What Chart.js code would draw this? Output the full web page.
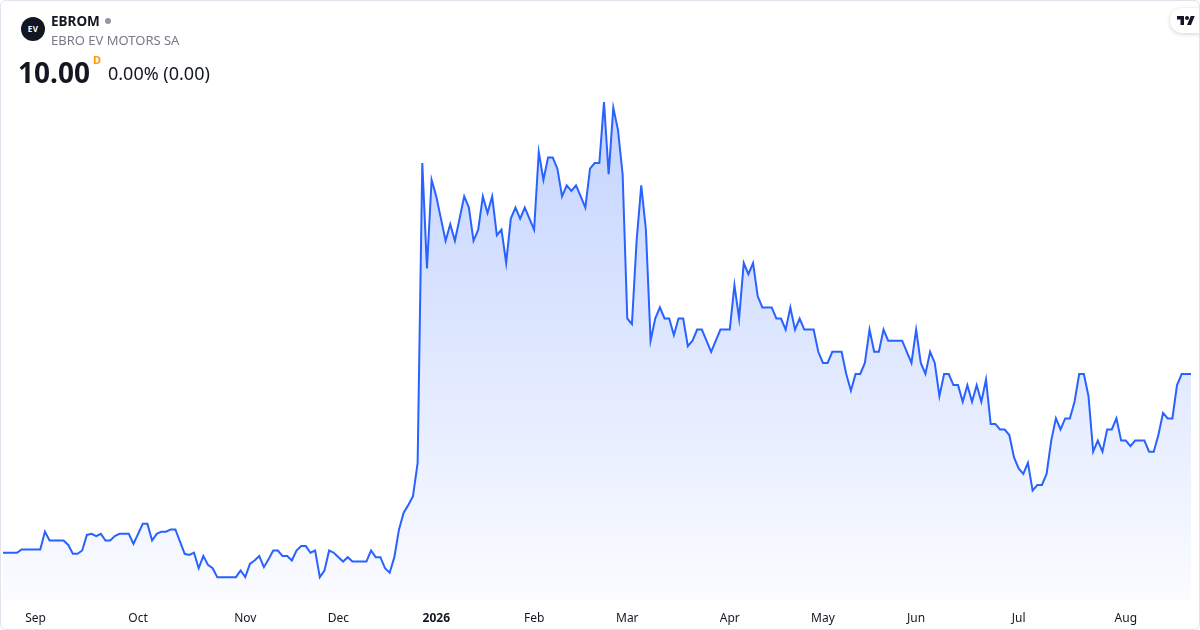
<!DOCTYPE html>
<html>
<head>
<meta charset="utf-8">
<script src="https://cdn.jsdelivr.net/npm/chart.js@4/dist/chart.umd.min.js"></script>
<style>
  html,body{margin:0;padding:0;background:#fff;}
  body{width:1200px;height:630px;position:relative;overflow:hidden;font-family:"Noto Sans","Open Sans",sans-serif;color:#131722;}
  #wrap{position:absolute;left:0;top:0;width:1200px;height:630px;}
  #frame{position:absolute;left:0;top:0;width:1198px;height:628px;border:1px solid #e0e3eb;border-radius:6px;pointer-events:none;}
  .abs{position:absolute;white-space:nowrap;}
  #logo{left:21px;top:17px;width:24px;height:24px;border-radius:50%;background:#131722;color:#fff;font-size:8px;font-weight:700;line-height:24px;text-align:center;letter-spacing:0.5px;}
  #sym{left:51px;top:11px;font-size:13.5px;font-weight:700;line-height:20px;}
  #dot{left:105px;top:17.5px;width:6px;height:6px;border-radius:50%;background:#9598a1;}
  #name{left:51px;top:31px;font-size:13px;line-height:19px;color:#787b86;}
  #price{left:18px;top:54px;font-size:28px;font-weight:700;line-height:36px;}
  #dmark{left:93px;top:53px;font-size:11px;font-weight:700;color:#ff9800;line-height:14px;}
  #chg{left:108px;top:61px;font-size:18px;line-height:25px;}
  #tv{left:1170px;top:8px;width:40px;height:25px;background:#fff;border-radius:12px;box-shadow:0 1px 4px rgba(0,0,0,0.18);}
  #tv svg{position:absolute;left:7px;top:6px;}
</style>
</head>
<body>
<div id="wrap"><canvas id="c" width="1200" height="630"></canvas></div>
<div class="abs" id="logo">EV</div>
<div class="abs" id="sym">EBROM</div>
<div class="abs" id="dot"></div>
<div class="abs" id="name">EBRO EV MOTORS SA</div>
<div class="abs" id="price">10.00</div>
<div class="abs" id="dmark">D</div>
<div class="abs" id="chg">0.00% (0.00)</div>
<div class="abs" id="tv"><svg width="18" height="13" viewBox="0 0 36 26"><path fill="#131722" d="M14 22H7V11H0V4h14v18zM28 22h-8l7.5-18h8L28 22z"/><circle fill="#131722" cx="20" cy="8" r="4"/></svg></div>
<div id="frame"></div>
<script>
// Daily closing prices (one per trading day, oldest first)
const closes = [
  8.39, 8.39, 8.39, 8.39, 8.42, 8.42, 8.42, 8.42, 8.42, 8.58,
  8.50, 8.50, 8.50, 8.50, 8.46, 8.38, 8.38, 8.41, 8.55, 8.56,
  8.54, 8.56, 8.50, 8.50, 8.54, 8.56, 8.56, 8.56, 8.47, 8.56,
  8.65, 8.65, 8.50, 8.56, 8.58, 8.58, 8.60, 8.60, 8.49, 8.38,
  8.37, 8.39, 8.25, 8.36, 8.28, 8.25, 8.17, 8.17, 8.17, 8.17,
  8.17, 8.23, 8.17, 8.29, 8.32, 8.36, 8.26, 8.33, 8.41, 8.41,
  8.36, 8.36, 8.32, 8.41, 8.45, 8.45, 8.39, 8.41, 8.17, 8.23,
  8.41, 8.39, 8.35, 8.31, 8.35, 8.31, 8.31, 8.31, 8.31, 8.41,
  8.35, 8.35, 8.25, 8.21, 8.35, 8.60, 8.75, 8.82, 8.90, 9.20,
  11.90, 10.95, 11.75, 11.60, 11.40, 11.20, 11.35, 11.20, 11.40, 11.60,
  11.50, 11.20, 11.30, 11.60, 11.45, 11.60, 11.25, 11.30, 11.00, 11.40,
  11.50, 11.40, 11.50, 11.40, 11.30, 12.00, 11.75, 11.95, 11.95, 11.85,
  11.60, 11.70, 11.65, 11.70, 11.60, 11.50, 11.85, 11.90, 11.90, 12.45,
  11.80, 12.40, 12.20, 11.80, 10.50, 10.45, 11.20, 11.70, 11.30, 10.30,
  10.50, 10.60, 10.50, 10.50, 10.35, 10.50, 10.50, 10.25, 10.30, 10.40,
  10.40, 10.30, 10.20, 10.30, 10.40, 10.40, 10.40, 10.80, 10.50, 11.00,
  10.90, 11.00, 10.70, 10.60, 10.60, 10.60, 10.50, 10.50, 10.40, 10.60,
  10.40, 10.50, 10.40, 10.40, 10.40, 10.20, 10.10, 10.10, 10.20, 10.20,
  10.20, 10.00, 9.85, 10.00, 10.00, 10.10, 10.40, 10.20, 10.20, 10.40,
  10.30, 10.30, 10.30, 10.30, 10.20, 10.10, 10.40, 10.10, 10.00, 10.20,
  10.10, 9.80, 10.00, 10.00, 9.90, 9.90, 9.75, 9.90, 9.75, 9.90,
  9.75, 9.95, 9.55, 9.55, 9.50, 9.50, 9.45, 9.25, 9.15, 9.10,
  9.20, 8.95, 9.00, 9.00, 9.10, 9.40, 9.60, 9.50, 9.60, 9.60,
  9.75, 10.00, 10.00, 9.80, 9.30, 9.40, 9.30, 9.50, 9.50, 9.60,
  9.40, 9.40, 9.35, 9.40, 9.40, 9.40, 9.30, 9.30, 9.45, 9.65,
  9.60, 9.60, 9.90, 10.00, 10.00, 10.00
];
// Trading-day index of first session of each month, and its label
const monthTickIndex  = [7, 29, 52, 72, 93, 114, 134, 156, 176, 196, 218, 241];
const monthTickLabels = ["Sep", "Oct", "Nov", "Dec", "2026", "Feb", "Mar", "Apr", "May", "Jun", "Jul", "Aug"];
const yearLabels = ["2026"];

const points = closes.map((v, i) => ({ x: i, y: v }));

const ctx = document.getElementById('c').getContext('2d');
new Chart(ctx, {
  type: 'line',
  data: {
    datasets: [{
      data: points,
      borderColor: '#2962ff',
      borderWidth: 2,
      pointRadius: 0,
      tension: 0,
      fill: 'start',
      backgroundColor: (c) => {
        const a = c.chart.chartArea;
        if (!a) return 'rgba(41,98,255,0.15)';
        const g = c.chart.ctx.createLinearGradient(0, a.top + 40, 0, a.bottom);
        g.addColorStop(0, 'rgba(41,98,255,0.28)');
        g.addColorStop(1, 'rgba(41,98,255,0.02)');
        return g;
      }
    }]
  },
  options: {
    responsive: false,
    animation: false,
    events: [],
    layout: { padding: { top: 60, left: 3, right: 9, bottom: 0 } },
    plugins: { legend: { display: false }, tooltip: { enabled: false } },
    scales: {
      x: {
        type: 'linear',
        min: 0,
        max: closes.length - 1,
        border: { display: false },
        grid: { display: false, drawTicks: false },
        afterBuildTicks: (scale) => {
          scale.ticks = monthTickIndex.map(v => ({ value: v }));
        },
        afterFit: (scale) => { scale.height = 30; },
        ticks: {
          autoSkip: false,
          maxRotation: 0,
          padding: 11,
          color: '#131722',
          font: (c) => ({
            family: '"Noto Sans", "Open Sans", sans-serif',
            size: 12,
            weight: (c.tick && yearLabels.includes(c.tick.label)) ? 'bold' : 'normal'
          }),
          callback: (value) => {
            const k = monthTickIndex.indexOf(Math.round(value));
            return k >= 0 ? monthTickLabels[k] : '';
          }
        }
      },
      y: {
        display: false,
        min: 7.964,
        max: 12.829
      }
    }
  }
});
</script>
</body>
</html>
